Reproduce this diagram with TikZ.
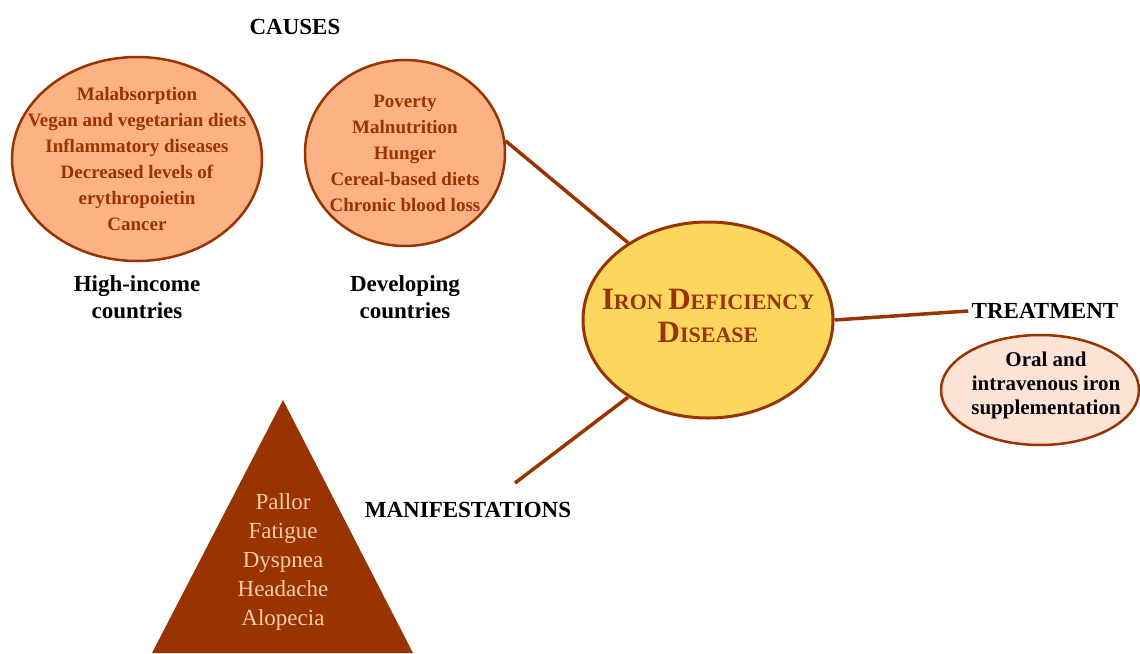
\documentclass[tikz,border=0pt]{standalone}
\usepackage{fontspec}
\setmainfont{Liberation Serif}
\usetikzlibrary{positioning, shapes.geometric}

\definecolor{ironbrown}{HTML}{993300}
\definecolor{causefill}{HTML}{FDB286}
\definecolor{diseasefill}{HTML}{FDD65E}
\definecolor{treatfill}{HTML}{FDE3D6}
\definecolor{symptomtext}{HTML}{F8CBA8}

\newcommand{\bigsmallcaps}[2]{{\fontsize{31}{33}\selectfont #1}{\fontsize{22}{33}\selectfont #2}}

\tikzset{
  blob/.style={ellipse, draw=ironbrown, line width=2.5pt, inner sep=0pt},
  causetext/.style={text=ironbrown, font=\bfseries\fontsize{19}{26}\selectfont, align=center},
  heading/.style={font=\bfseries\fontsize{23}{27}\selectfont, align=center},
  link/.style={ironbrown, line width=3.5pt},
}

\begin{document}
\begin{tikzpicture}[x=1pt, y=-1pt]
\useasboundingbox (0,0) rectangle (1140,653);
\clip (0,0) rectangle (1140,653);

% Causes
\node[heading] (causes) at (295,27) {CAUSES};
\node[blob, fill=causefill, minimum width=250, minimum height=204] (highinc) at (137,159) {};
\node[causetext] (highinctext) at (highinc) {Malabsorption\\Vegan and vegetarian diets\\Inflammatory diseases\\Decreased levels of\\erythropoietin\\Cancer};
\node[heading] (highinclabel) at (137,297) {High-income\\countries};

\node[blob, fill=causefill, minimum width=200, minimum height=186] (developing) at (405,153) {};
\node[causetext] (developingtext) at (developing) {Poverty\\Malnutrition\\Hunger\\Cereal-based diets\\Chronic blood loss};
\node[heading] (developinglabel) at (405,297) {Developing\\countries};

% Disease
\node[blob, line width=3pt, fill=diseasefill, minimum width=250, minimum height=196] (ida) at (708,320) {};
\node[text=ironbrown, font=\bfseries\fontsize{22}{33}\selectfont, align=center] (idatext) at (708,316) {\bigsmallcaps{I}{RON} \bigsmallcaps{D}{EFICIENCY}\\\bigsmallcaps{D}{ISEASE}};

% Treatment
\node[heading] (treatlabel) at (1045,311) {TREATMENT};
\node[blob, fill=treatfill, minimum width=198, minimum height=110] (treat) at (1040,390) {};
\node[font=\bfseries\fontsize{21}{24}\selectfont, align=center] (treattext) at (1046,385) {Oral and\\intravenous iron\\supplementation};

% Manifestations
\node[heading] (maniflabel) at (468,510) {MANIFESTATIONS};
\fill[ironbrown] (283,400) -- (413,653) -- (152,653) -- cycle;
\node[text=symptomtext, font=\fontsize{23}{29}\selectfont, align=center] (maniftext) at (283,562) {Pallor\\Fatigue\\Dyspnea\\Headache\\Alopecia};
\coordinate (manifend) at (515,483);

% links
\draw[link] (developing.7) -- (ida.136);
\draw[link] (ida.224) -- (manifend);
\draw[link] (ida.east) -- (treatlabel.west);
\end{tikzpicture}
\end{document}
